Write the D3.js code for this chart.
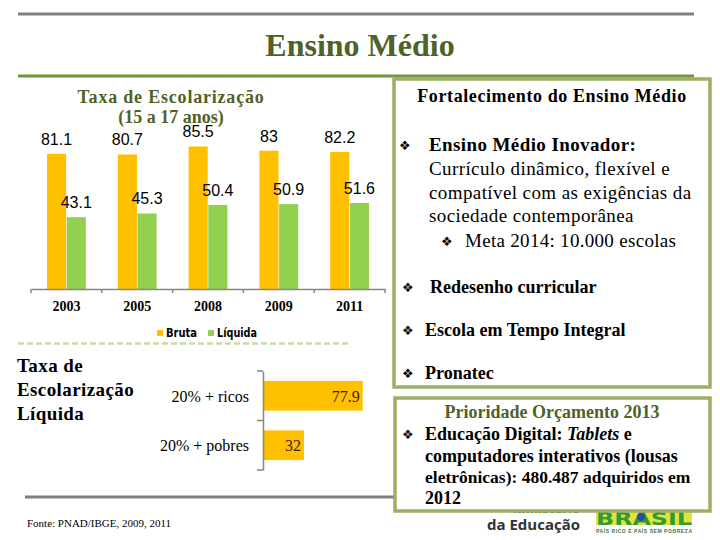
<!DOCTYPE html>
<html><head><meta charset="utf-8">
<script src="https://cdn.jsdelivr.net/npm/d3@7"></script>
<style>
body{margin:0;background:#fff;}
svg{display:block;}
</style></head>
<body>
<svg id="c" width="720" height="540"></svg>
<script>
// ---- data ----
const years = ["2003", "2005", "2008", "2009", "2011"];
const bruta = [81.1, 80.7, 85.5, 83, 82.2];
const liquida = [43.1, 45.3, 50.4, 50.9, 51.6];
const seriesNames = ["Bruta", "Líquida"];
const incomeGroups = ["20% + ricos", "20% + pobres"];
const incomeValues = [77.9, 32];

const SERIF = "'Liberation Serif','Times New Roman',serif";
const SANS = "'Liberation Sans',Arial,sans-serif";
const NARROW = "'Liberation Sans Narrow','DejaVu Sans Condensed',sans-serif";
const ORANGE = "#ffc000", GREEN = "#92d050", OLIVE = "#4f6228", BOX = "#9bb065";

const svg = d3.select("#c");

// header lines & title
svg.append("line").attr("x1", 18).attr("x2", 694).attr("y1", 14).attr("y2", 14)
  .attr("stroke", "#808080").attr("stroke-width", 3);
svg.append("line").attr("x1", 18).attr("x2", 694).attr("y1", 76).attr("y2", 76)
  .attr("stroke", "#77933c").attr("stroke-width", 3);
svg.append("text").attr("x", 360).attr("y", 56).attr("text-anchor", "middle")
  .attr("font-family", SERIF).attr("font-weight", "bold").attr("font-size", 32)
  .attr("fill", OLIVE).text("Ensino Médio");

// ---- grouped bar chart ----
const g1 = svg.append("g");
g1.append("text").attr("x", 171).attr("y", 103).attr("text-anchor", "middle")
  .attr("font-family", SERIF).attr("font-weight", "bold").attr("font-size", 18)
  .attr("letter-spacing", 0.8).attr("fill", OLIVE).text("Taxa de Escolarização");
g1.append("text").attr("x", 171).attr("y", 123).attr("text-anchor", "middle")
  .attr("font-family", SERIF).attr("font-weight", "bold").attr("font-size", 18)
  .attr("fill", OLIVE).text("(15 a 17 anos)");

const x0 = d3.scaleBand().domain(years).range([31, 385]);
const x1 = d3.scaleBand().domain(seriesNames).range([16, x0.bandwidth() - 16]).paddingInner(0.03);
const y = d3.scaleLinear().domain([0, 100]).range([289, 122.3]);
const colors = d3.scaleOrdinal().domain(seriesNames).range([ORANGE, GREEN]);

const rows = years.map((yr, i) => ({year: yr, vals: [
  {s: "Bruta", v: bruta[i]}, {s: "Líquida", v: liquida[i]}]}));

const grp = g1.selectAll("g.yr").data(rows).join("g").attr("class", "yr")
  .attr("transform", d => `translate(${x0(d.year)},0)`);
grp.selectAll("rect").data(d => d.vals).join("rect")
  .attr("x", d => x1(d.s)).attr("width", x1.bandwidth())
  .attr("y", d => y(d.v)).attr("height", d => y(0) - y(d.v))
  .attr("fill", d => colors(d.s));
grp.selectAll("text").data(d => d.vals).join("text")
  .attr("x", d => x1(d.s) + x1.bandwidth() / 2).attr("y", d => y(d.v) - 9)
  .attr("text-anchor", "middle").attr("font-family", SANS).attr("font-size", 16)
  .attr("fill", "#000").text(d => d.v);

// axis
const ax = g1.append("g").attr("transform", `translate(0,${y(0)})`)
  .call(d3.axisBottom(x0).tickSize(0).tickPadding(0));
ax.select(".domain").attr("stroke", "#868686").attr("stroke-width", 1.5);
ax.selectAll(".tick text").attr("font-family", SERIF).attr("font-weight", "bold")
  .attr("font-size", 14).attr("fill", "#000").attr("dy", 0).attr("y", 22);
const bounds = years.map(d => x0(d)).concat([x0.range()[1]]);
g1.selectAll("line.tk").data(bounds).join("line").attr("class", "tk")
  .attr("x1", d => d).attr("x2", d => d).attr("y1", y(0)).attr("y2", y(0) + 4)
  .attr("stroke", "#868686").attr("stroke-width", 1.5);

// legend
const leg = g1.append("g");
const legX = [157, 208];
const legW = [31, 40];
seriesNames.forEach((s, i) => {
  leg.append("rect").attr("x", legX[i]).attr("y", 330).attr("width", 6).attr("height", 6)
    .attr("fill", colors(s));
  leg.append("text").attr("x", legX[i] + 9).attr("y", 337).attr("font-family", NARROW)
    .attr("font-weight", "bold").attr("font-size", 13).attr("fill", "#000")
    .attr("textLength", legW[i]).attr("lengthAdjust", "spacingAndGlyphs").text(s);
});
svg.append("line").attr("x1", 18).attr("x2", 348).attr("y1", 343.5).attr("y2", 343.5)
  .attr("stroke", "#c9dba3").attr("stroke-width", 2.5).attr("stroke-dasharray", "6,3");

// ---- horizontal bar chart ----
const g2 = svg.append("g");
["Taxa de", "Escolarização", "Líquida"].forEach((t, i) => {
  g2.append("text").attr("x", 17).attr("y", 372 + i * 24).attr("font-family", SERIF)
    .attr("font-weight", "bold").attr("font-size", 19).attr("letter-spacing", 0.4)
    .attr("fill", "#000").text(t);
});
const hy = d3.scaleBand().domain(incomeGroups).range([371, 470]).paddingInner(0.4).paddingOuter(0.2);
const hx = d3.scaleLinear().domain([0, 100]).range([263, 391]);
g2.selectAll("rect.hb").data(incomeGroups).join("rect").attr("class", "hb")
  .attr("x", hx(0)).attr("y", d => hy(d)).attr("height", hy.bandwidth())
  .attr("width", (d, i) => hx(incomeValues[i]) - hx(0)).attr("fill", ORANGE);
g2.selectAll("text.hv").data(incomeGroups).join("text").attr("class", "hv")
  .attr("x", (d, i) => hx(incomeValues[i]) - 3).attr("y", d => hy(d) + hy.bandwidth() / 2 + 6)
  .attr("text-anchor", "end").attr("font-family", SERIF).attr("font-size", 16)
  .attr("fill", "#3a1c1c").text((d, i) => incomeValues[i]);
g2.selectAll("text.hl").data(incomeGroups).join("text").attr("class", "hl")
  .attr("x", 249).attr("y", d => hy(d) + hy.bandwidth() / 2 + 6)
  .attr("text-anchor", "end").attr("font-family", SERIF).attr("font-size", 16)
  .attr("fill", "#000").text(d => d);
const hax = g2.append("g").attr("transform", `translate(${hx(0)},0)`)
  .call(d3.axisLeft(hy).tickSize(0).tickFormat(""));
hax.select(".domain").attr("stroke", "#868686").attr("stroke-width", 1.5);
const hb = hy.domain().map(d => hy(d) - hy.step() * hy.paddingInner() / 2);
hb[0] = hy.range()[0]; hb.push(hy.range()[1]);
g2.selectAll("line.htk").data(hb).join("line").attr("class", "htk")
  .attr("x1", hx(0) - 6).attr("x2", hx(0)).attr("y1", d => d).attr("y2", d => d)
  .attr("stroke", "#868686").attr("stroke-width", 1.5);

// footer
svg.append("line").attr("x1", 25).attr("x2", 396).attr("y1", 497).attr("y2", 497)
  .attr("stroke", "#7f7f7f").attr("stroke-width", 3);
svg.append("text").attr("x", 27).attr("y", 527).attr("font-family", SERIF)
  .attr("font-size", 11).attr("fill", "#000")
  .text("Fonte: PNAD/IBGE, 2009, 2011");

// logos
svg.append("text").attr("x", 580).attr("y", 513).attr("text-anchor", "end")
  .attr("font-family", "'Open Sans',sans-serif").attr("font-weight", "bold").attr("font-size", 13)
  .attr("fill", "#333").text("Ministério");
svg.append("text").attr("x", 487).attr("y", 530)
  .attr("font-family", "'Open Sans',sans-serif").attr("font-weight", "bold").attr("font-size", 15)
  .attr("fill", "#333").attr("textLength", 93).text("da Educação");
svg.append("rect").attr("x", 596).attr("y", 510).attr("width", 96).attr("height", 15).attr("fill", "#e3e335");
svg.append("text").attr("x", 596).attr("y", 525).attr("font-family", "'DejaVu Sans',sans-serif")
  .attr("font-weight", "bold").attr("font-size", 18).attr("fill", "#2f9a3a")
  .attr("textLength", 96).attr("lengthAdjust", "spacingAndGlyphs").text("BRASIL");
svg.append("circle").attr("cx", 641).attr("cy", 517).attr("r", 4).attr("fill", "#2a4fa0");
svg.append("text").attr("x", 596).attr("y", 533).attr("font-family", SANS).attr("font-weight", "bold")
  .attr("font-size", 5).attr("fill", "#2f7a3a").attr("textLength", 96).text("PAÍS RICO É PAÍS SEM POBREZA");

// ---- right text boxes ----
svg.append("rect").attr("x", 394).attr("y", 79).attr("width", 316).attr("height", 308)
  .attr("fill", "#fff").attr("stroke", BOX).attr("stroke-width", 3.5);
svg.append("rect").attr("x", 395).attr("y", 398).attr("width", 315).attr("height", 113)
  .attr("fill", "#fff").attr("stroke", BOX).attr("stroke-width", 3.5);

const B = "❖";
function txt(x, yy, s, opt = {}) {
  const t = svg.append("text").attr("x", x).attr("y", yy).attr("font-family", SERIF)
    .attr("font-size", opt.size || 18).attr("fill", opt.fill || "#000")
    .attr("font-weight", opt.bold ? "bold" : "normal");
  if (opt.anchor) t.attr("text-anchor", opt.anchor);
  if (opt.ls) t.attr("letter-spacing", opt.ls);
  t.text(s);
  return t;
}
function bullet(x, yy) {
  svg.append("text").attr("x", x).attr("y", yy - 1).attr("font-family", "'DejaVu Sans',sans-serif")
    .attr("font-size", 13).attr("fill", "#000").text(B);
}
txt(552, 102, "Fortalecimento do Ensino Médio", {bold: true, size: 18, anchor: "middle", ls: 0.6});
bullet(399, 151); txt(429, 151, "Ensino Médio Inovador:", {bold: true, size: 19, ls: 0.4});
txt(429, 175, "Currículo dinâmico, flexível e", {size: 19, ls: 0.4});
txt(429, 199, "compatível com as exigências da", {size: 19, ls: 0.4});
txt(429, 222, "sociedade contemporânea", {size: 19, ls: 0.4});
bullet(441, 247); txt(465, 247, "Meta 2014: 10.000 escolas", {size: 19, ls: 0.3});
bullet(402, 293); txt(430, 293, "Redesenho curricular", {bold: true, size: 18});
bullet(402, 336); txt(425, 336, "Escola em Tempo Integral", {bold: true, size: 18});
bullet(402, 379); txt(425, 379, "Pronatec", {bold: true, size: 18});

txt(552, 418, "Prioridade Orçamento 2013", {bold: true, size: 18, anchor: "middle", fill: OLIVE});
bullet(402, 440);
const t1 = txt(425, 440, "Educação Digital: ", {bold: true, size: 18});
t1.append("tspan").attr("font-style", "italic").text("Tablets");
t1.append("tspan").text(" e");
txt(425, 462, "computadores interativos (lousas", {bold: true, size: 18});
txt(425, 483, "eletrônicas):  480.487 adquiridos em", {bold: true, size: 17.5});
txt(425, 504, "2012", {bold: true, size: 18});
</script>
</body></html>
